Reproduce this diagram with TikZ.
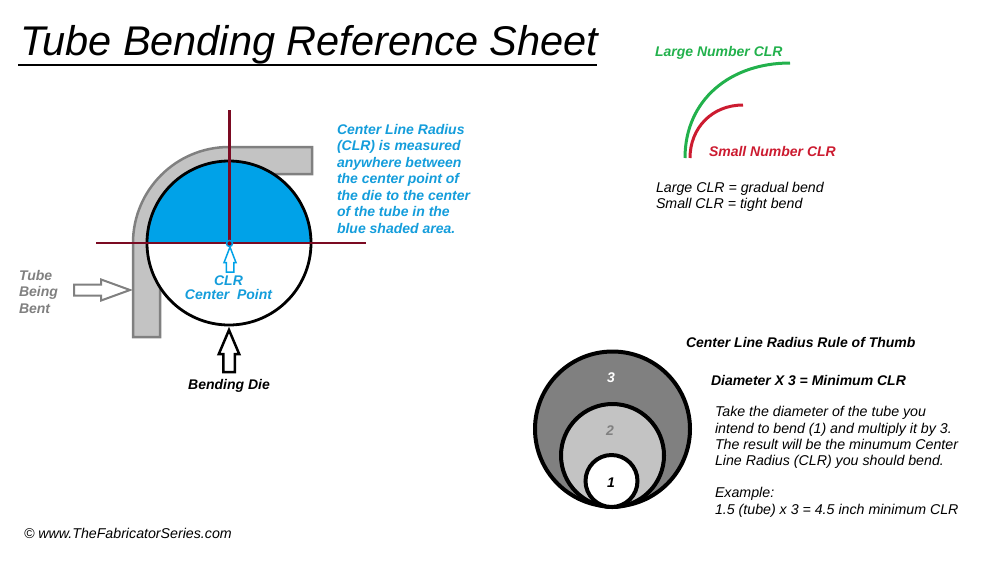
\documentclass[tikz,border=0pt]{standalone}
\usepackage{fontspec}
\setmainfont{Liberation Sans}
\usepackage{tikz}
\usetikzlibrary{positioning, shapes.arrows}
\definecolor{tubegray}{HTML}{C3C3C3}
\definecolor{edgegray}{HTML}{808080}
\definecolor{dieblue}{HTML}{00A2E8}
\definecolor{textblue}{HTML}{149DDB}
\definecolor{axisred}{HTML}{7B0A22}
\definecolor{clrgreen}{HTML}{22B14C}
\definecolor{clrred}{HTML}{CC1B30}
\tikzset{
label/.style={
  inner sep=0pt,
  outer sep=0pt,
  anchor=west,
  align=left,
  font=\fontsize{14.2}{16.5}\selectfont\itshape
  },
boldlabel/.style={
  label,
  font=\fontsize{14}{16.5}\selectfont\bfseries\itshape
  },
blockarrow/.style={
  single arrow,
  draw,
  fill=white,
  inner sep=0pt,
  outer sep=0pt,
  anchor=tip
  },
axis/.style={axisred, line width=2.5pt},
ring/.style={draw=black, line width=4pt}
}

\begin{document}
\begin{tikzpicture}[x=1pt, y=-1pt]
\useasboundingbox (0,0) rectangle (1000,563);
% title
\node[label, font=\fontsize{41.5}{50}\selectfont\itshape] (title) at (20,45) {Tube Bending Reference Sheet};
\draw[line width=2.5pt] (18,65) -- (597,65);
% tube and die
\draw[fill=tubegray, draw=edgegray, line width=2.5pt] (133,337) -- (133,243)
    arc[start angle=180, end angle=270, radius=96] -- (312,147) -- (312,174) -- (229,174)
    arc[start angle=270, end angle=180, radius=69] -- (160,337) -- cycle;
\fill[white] (229,243) circle(82);
\fill[dieblue] (147,243) arc[start angle=180, end angle=360, radius=82] -- cycle;
\draw[line width=2.8pt] (229,243) circle(82);
\draw[axis] (96,243) -- (366,243);
\draw[axis, line width=3pt] (229.5,110) -- (229.5,243);
\draw[draw=dieblue, fill=axisred, line width=1.5pt] (229.5,243.5) circle(3);
% arrows
\node[blockarrow, draw=dieblue, line width=1.5pt, rotate=90, minimum height=25pt, inner ysep=3pt,
    single arrow tip angle=42, single arrow head extend=2.2pt] (clrarrow) at (230,247) {};
\node[blockarrow, draw=edgegray, line width=2pt, minimum height=56pt, inner ysep=4.5pt,
    single arrow tip angle=40, single arrow head extend=5pt] (tubearrow) at (130,290) {};
\node[blockarrow, line width=2.5pt, rotate=90, minimum height=42pt, inner ysep=4.5pt,
    single arrow tip angle=46, single arrow head extend=4.5pt] (diearrow) at (229,330) {};
% labels of the bend
\node[boldlabel, text=textblue, align=center, anchor=north, font=\fontsize{14}{14}\selectfont\bfseries\itshape] (clrpoint)
    at (228.5,276) {CLR\\Center\ \ Point};
\node[boldlabel, text=edgegray] (tubelabel) at (19,291.5) {Tube\\Being\\Bent};
\node[boldlabel, below=7pt of diearrow.tail, anchor=north] (dielabel) {Bending Die};
\node[boldlabel, text=textblue, anchor=north west] (clrnote) at (337,124) {Center Line Radius\\(CLR) is measured\\anywhere between\\the center point of\\the die to the center\\of the tube in the\\blue shaded area.};
% large and small
\node[boldlabel, text=clrgreen] (largelabel) at (655,53) {Large Number CLR};
\node[boldlabel, text=clrred] (smalllabel) at (709,151.5) {Small Number CLR};
\draw[clrgreen, line width=3pt] (685,158) .. controls (685,100) and (730,63) .. (790,63);
\draw[clrred, line width=3pt] (690,158) .. controls (690,128) and (712,105) .. (743,105);
\node[label, anchor=north west, font=\fontsize{14.2}{16}\selectfont\itshape] (clrnotes) at (656,182) {Large CLR = gradual bend\\Small CLR = tight bend};
% rule of thumb
\draw[ring, fill=edgegray] (612.5,429) circle(77.5);
\draw[ring, fill=tubegray] (612.5,455.5) circle(51.5);
\draw[ring, fill=white] (611.5,481) circle(26);
\node[boldlabel, text=white, anchor=center] (three) at (611,378) {3};
\node[boldlabel, text=edgegray, anchor=center] (two) at (610,431) {2};
\node[boldlabel, anchor=center] (one) at (611,483) {1};
\node[boldlabel] (rulelabel) at (686,342) {Center Line Radius Rule of Thumb};
\node[boldlabel] (formula) at (711,380) {Diameter X 3 = Minimum CLR};
\node[label, anchor=north west, font=\fontsize{14.2}{16.2}\selectfont\itshape] (ruletext) at (715,406.5) {Take the diameter of the tube you\\intend to bend (1) and multiply it by 3.\\The result will be the minumum Center\\Line Radius (CLR) you should bend.\\[16.2pt]Example:\\1.5 (tube) x 3 = 4.5 inch minimum CLR};
\node[label] (credit) at (24,533) {© www.TheFabricatorSeries.com};
\end{tikzpicture}
\end{document}
